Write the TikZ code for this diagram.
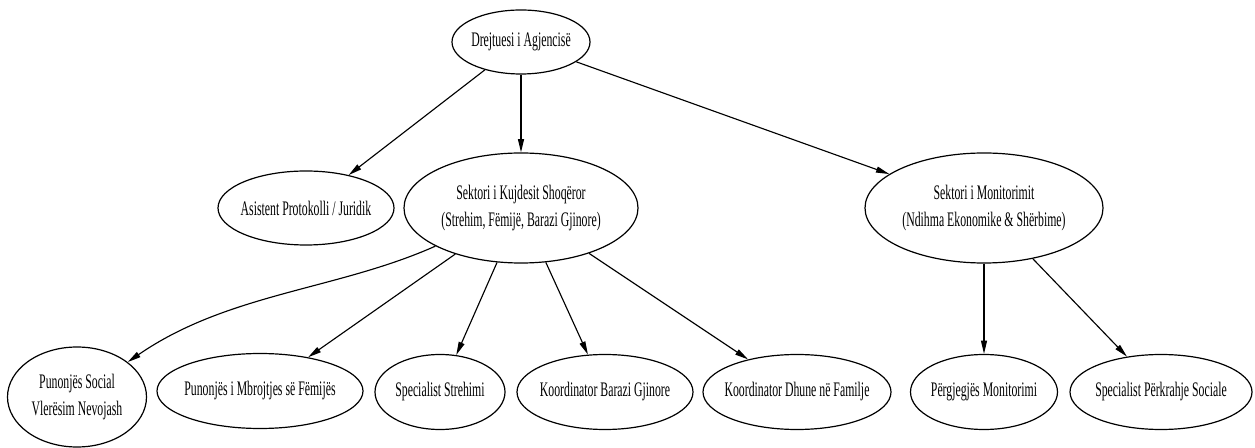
\documentclass[tikz,border=0pt]{standalone}
\usepackage{fontspec}
\setmainfont{Liberation Serif}[FakeStretch=0.57]
\usetikzlibrary{shapes.geometric,arrows.meta}

\begin{document}
\begin{tikzpicture}[x=0.75pt,y=-0.75pt,
        role/.style={draw, ellipse, line width=0.9pt, inner ysep=0pt, inner xsep=-6pt, align=center,
            font=\fontsize{15.5}{20.5}\selectfont},
        link/.style={line width=0.85pt, -{Triangle[length=10pt,width=4.5pt]}}]
        \useasboundingbox (0,0) rectangle (1255,448);
        % top
        \node[role, minimum width=103.5pt, minimum height=48pt] (drejt) at (521,42) {Drejtuesi i Agjencisë};
        % middle row
        \node[role, minimum width=132pt, minimum height=55.5pt] (asist) at (306,208) {Asistent Protokolli / Juridik};
        \node[role, minimum width=175.5pt, minimum height=82.5pt] (kujd) at (521,208) {Sektori i Kujdesit Shoqëror\\(Strehim, Fëmijë, Barazi Gjinore)};
        \node[role, minimum width=178.5pt, minimum height=82.5pt] (monit) at (984,208) {Sektori i Monitorimit\\(Ndihma Ekonomike \& Shërbime)};
        % bottom row
        \node[role, minimum width=104.25pt, minimum height=75pt] (punsoc) at (77,397) {Punonjës Social\\Vlerësim Nevojash};
        \node[role, minimum width=154.5pt, minimum height=56.25pt] (mbroj) at (260,391) {Punonjës i Mbrojtjes së Fëmijës};
        \node[role, minimum width=97.5pt, minimum height=56.25pt] (streh) at (440,392) {Specialist Strehimi};
        \node[role, minimum width=132pt, minimum height=56.25pt] (baraz) at (605,392) {Koordinator Barazi Gjinore};
        \node[role, minimum width=141pt, minimum height=56.25pt] (dhune) at (797,392) {Koordinator Dhune në Familje};
        \node[role, minimum width=110.25pt, minimum height=56.25pt] (pergj) at (984,392) {Përgjegjës Monitorimi};
        \node[role, minimum width=136.5pt, minimum height=56.25pt] (perkr) at (1161,392) {Specialist Përkrahje Sociale};
        % connectors
        \draw[link] (drejt) -- (asist);
        \draw[link] (drejt) -- (kujd);
        \draw[link] (drejt) -- (monit);
        \draw[link] (kujd) .. controls (337,290) and (228,293) .. (punsoc);
        \draw[link] (kujd) -- (mbroj);
        \draw[link] (kujd) -- (streh);
        \draw[link] (kujd) -- (baraz);
        \draw[link] (kujd) -- (dhune);
        \draw[link] (monit) -- (pergj);
        \draw[link] (monit) -- (perkr);
\end{tikzpicture}
\end{document}
